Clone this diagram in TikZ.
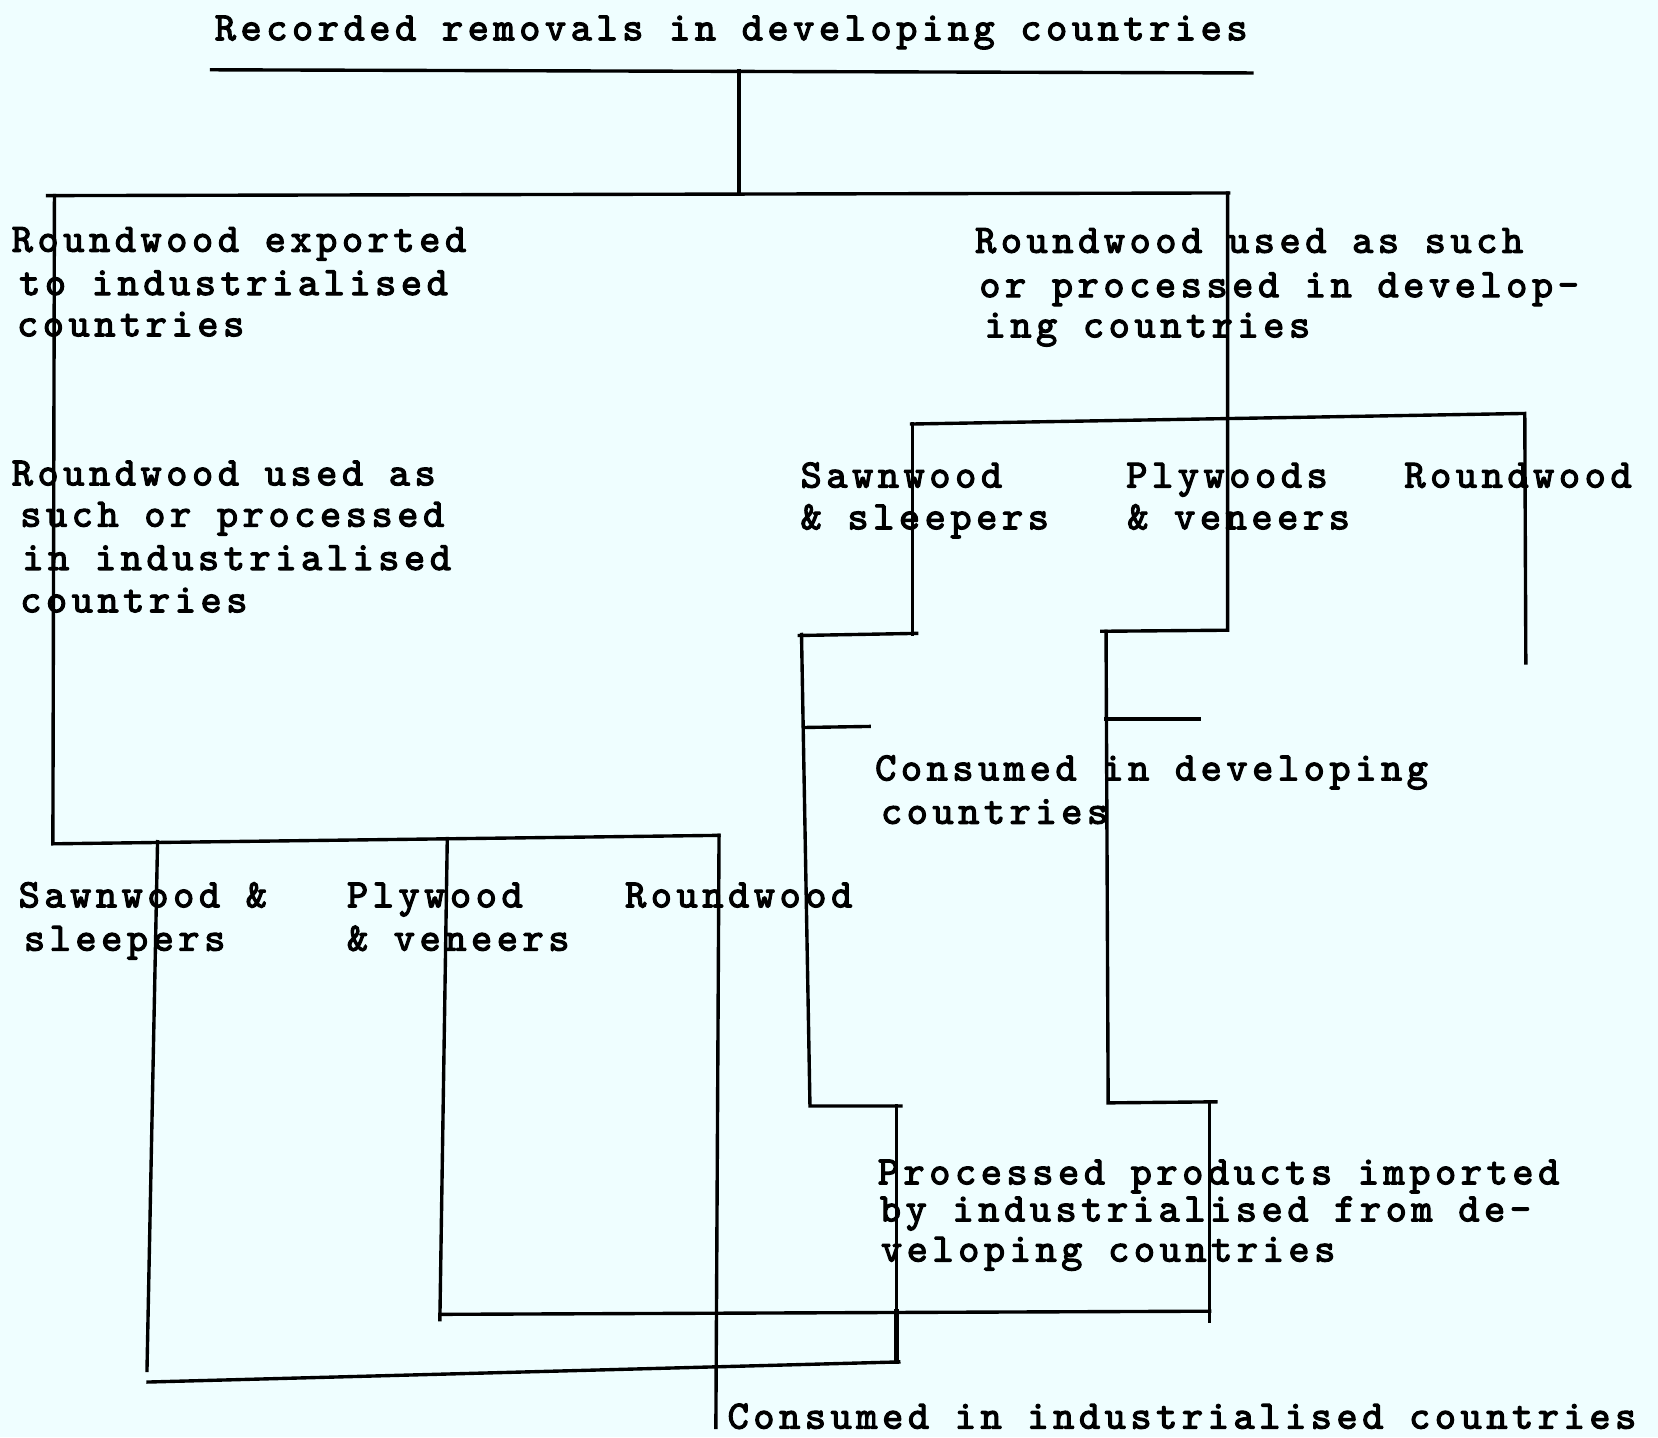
\documentclass[tikz,border=0pt]{standalone}
\usepackage{fontspec}
\newfontfamily\tw[LetterSpace=11.6,FakeBold=3]{lmmono10-regular.otf}
\newcommand\twfont{\tw\fontsize{38}{46}\selectfont}
\definecolor{paper}{HTML}{EFFEFF}
\begin{document}
\begin{tikzpicture}[x=1pt,y=-1pt,
  lab/.style={anchor=base west, inner sep=0pt, font=\twfont},
  ln/.style={line width=3.2pt, line cap=rect, line join=miter},
  thick ln/.style={line width=4.6pt}]
\fill[paper] (0,0) rectangle (1568,1359);
\useasboundingbox (0,0) rectangle (1568,1359);

% texts
\node[lab] (title) at (203,38) {Recorded removals in developing countries};
\node[lab] (ea) at (11,238) {Roundwood exported};
\node[lab] (eb) at (18,279) {to industrialised};
\node[lab] (ec) at (16,318) {countries};
\node[lab] (da) at (922,239) {Roundwood used as such};
\node[lab] (db) at (926,281) {or processed in develop-};
\node[lab] (dc) at (931,319) {ing countries};
\node[lab] (ia) at (11,459) {Roundwood used as};
\node[lab] (ib) at (19,498) {such or processed};
\node[lab] (ic) at (21,539) {in industrialised};
\node[lab] (id) at (19,579) {countries};
\node[lab] (dsa) at (757,461) {Sawnwood};
\node[lab] (dsb) at (757,500.5) {\& sleepers};
\node[lab] (dpa) at (1065,461) {Plywoods};
\node[lab] (dpb) at (1066,500.5) {\& veneers};
\node[lab] (drw) at (1328,461) {Roundwood};
\node[lab] (cda) at (827.5,738) {Consumed in developing};
\node[lab] (cdb) at (833,779) {countries};
\node[lab] (isa) at (17.5,858) {Sawnwood \&};
\node[lab] (isb) at (22.5,899) {sleepers};
\node[lab] (ipa) at (328,858) {Plywood};
\node[lab] (ipb) at (328,899) {\& veneers};
\node[lab] (irw) at (591,858) {Roundwood};
\node[lab] (ppa) at (830,1120) {Processed products imported};
\node[lab] (ppb) at (832,1155) {by industrialised from de-};
\node[lab] (ppc) at (833,1193) {veloping countries};
\node[lab] (ci) at (688,1351) {Consumed in industrialised countries};

% junction coordinates
\coordinate (u1) at (200,66);   \coordinate (u2) at (1184,69);
\coordinate (s1) at (699,67);   \coordinate (s2) at (699,184);
\coordinate (b1) at (45,185);   \coordinate (b2) at (1162,182.5);
\coordinate (lt) at (51.5,185); \coordinate (lb) at (50,798);
\coordinate (lr) at (680,790);  \coordinate (rwb) at (677,1350);
\coordinate (rt) at (1161,182.5); \coordinate (rs) at (1161,596);
\coordinate (rsl) at (1042,597); \coordinate (rv1) at (1046,597);
\coordinate (rv2) at (1048,1043); \coordinate (rh2) at (1150,1042);
\coordinate (rv3) at (1144,1043); \coordinate (rv4) at (1144,1250);
\coordinate (pt) at (423,793);  \coordinate (pb) at (416,1248);
\coordinate (ph1) at (416,1243); \coordinate (ph2) at (1144,1240);
\coordinate (st) at (149,796);  \coordinate (sb) at (139,1296);
\coordinate (bh1) at (140,1307); \coordinate (bh2) at (850,1288);
\coordinate (gt1) at (862,401); \coordinate (gt2) at (1442,391);
\coordinate (gr) at (1443,627);
\coordinate (gs1) at (863,401); \coordinate (gs2) at (863,600);
\coordinate (gh1) at (756,601); \coordinate (gh2) at (867,599);
\coordinate (gv1) at (758,600); \coordinate (gv2) at (766,1046);
\coordinate (gh3) at (852,1046); \coordinate (gv3) at (848,1046);
\coordinate (gv4) at (848,1288); \coordinate (gv5) at (848,1240);
\coordinate (k1) at (760,688);  \coordinate (k2) at (822,687);
\coordinate (k3) at (1046,680); \coordinate (k4) at (1134,680);

% connectors
\draw[ln] (u1) -- (u2);
\draw[ln] (s1) -- (s2);
\draw[ln] (b1) -- (b2);
\draw[ln] (lt) -- (lb) -- (lr);
\draw[ln] (lr) -- (rwb);
\draw[ln] (rt) -- (rs) -- (rsl);
\draw[ln] (rv1) -- (rv2) -- (rh2);
\draw[ln] (rv3) -- (rv4);
\draw[ln] (pt) -- (pb);
\draw[ln] (ph1) -- (ph2);
\draw[ln] (st) -- (sb);
\draw[ln] (bh1) -- (bh2);
\draw[ln] (gt1) -- (gt2) -- (gr);
\draw[ln] (gs1) -- (gs2);
\draw[ln] (gh1) -- (gh2);
\draw[ln] (gv1) -- (gv2) -- (gh3);
\draw[ln] (gv3) -- (gv4);
\draw[ln,thick ln] (gv5) -- (gv4);
\draw[ln] (k1) -- (k2);
\draw[ln] (k3) -- (k4);
\end{tikzpicture}
\end{document}
